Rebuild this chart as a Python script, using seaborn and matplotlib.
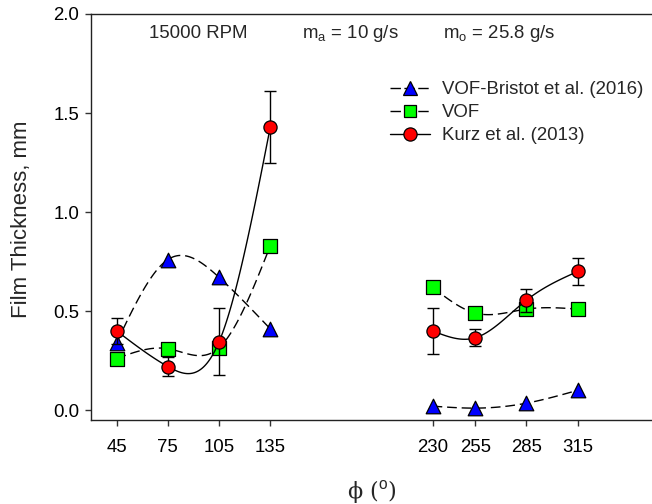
import numpy as np
import pandas as pd
import matplotlib
matplotlib.use("Agg")
import matplotlib.pyplot as plt
from matplotlib.lines import Line2D
import seaborn as sns

# Circumferential positions (degrees), two separate groups
phi_a = [45, 75, 105, 135]
phi_b = [230, 255, 285, 315]

# Film thickness, mm
vof_bristot_a = [0.34, 0.76, 0.67, 0.41]
vof_bristot_b = [0.02, 0.01, 0.035, 0.10]
vof_a = [0.26, 0.31, 0.315, 0.83]
vof_b = [0.62, 0.49, 0.51, 0.51]
kurz_a = [0.40, 0.22, 0.345, 1.43]
kurz_b = [0.40, 0.365, 0.555, 0.70]
kurz_err_a = [0.065, 0.047, 0.17, 0.18]
kurz_err_b = [0.115, 0.042, 0.058, 0.07]

x_ticks = [45, 75, 105, 135, 230, 255, 285, 315]
y_ticks = [0.0, 0.5, 1.0, 1.5, 2.0]

sns.set_theme(style="ticks")
plt.rcParams["font.family"] = ["Liberation Sans", "DejaVu Sans"]
plt.rcParams["mathtext.fontset"] = "custom"
plt.rcParams["mathtext.rm"] = "Liberation Sans"
plt.rcParams["mathtext.it"] = "Liberation Sans:italic"
FS = 13.4
FS_LABEL = 16


def natural_spline(x, y, n=120):
    """Natural cubic spline through (x, y), sampled on n points."""
    x = np.asarray(x, float)
    y = np.asarray(y, float)
    k = len(x)
    h = np.diff(x)
    A = np.zeros((k, k))
    r = np.zeros(k)
    A[0, 0] = A[-1, -1] = 1.0
    for i in range(1, k - 1):
        A[i, i - 1] = h[i - 1]
        A[i, i] = 2 * (h[i - 1] + h[i])
        A[i, i + 1] = h[i]
        r[i] = 6 * ((y[i + 1] - y[i]) / h[i] - (y[i] - y[i - 1]) / h[i - 1])
    M = np.linalg.solve(A, r)
    xs = np.linspace(x[0], x[-1], n)
    idx = np.clip(np.searchsorted(x, xs) - 1, 0, k - 2)
    x0, x1 = x[idx], x[idx + 1]
    hh = x1 - x0
    a = (x1 - xs) / hh
    b = (xs - x0) / hh
    ys = (a * y[idx] + b * y[idx + 1]
          + ((a ** 3 - a) * M[idx] + (b ** 3 - b) * M[idx + 1]) * hh ** 2 / 6)
    return xs, ys


fig = plt.figure(figsize=(6.52, 5.04), dpi=100)
W, H = 652, 504
ax_l, ax_t, ax_b = 91, 14, 420
ax = fig.add_axes([ax_l / W, 1 - ax_b / H, (W - ax_l) / W, (ax_b - ax_t) / H])

series = [
    ("VOF-Bristot et al. (2016)", vof_bristot_a, vof_bristot_b, "^", "#0000ff", (7, 3.5)),
    ("VOF", vof_a, vof_b, "s", "#00ff00", (7, 3.5)),
    ("Kurz et al. (2013)", kurz_a, kurz_b, "o", "#ff0000", ""),
]

z = 2
for name, ya, yb, mk, col, dash in series:
    for xs_, ys_ in ((phi_a, ya), (phi_b, yb)):
        sx, sy = natural_spline(xs_, ys_)
        curve = pd.DataFrame({"phi": sx, "t": sy})
        sns.lineplot(data=curve, x="phi", y="t", ax=ax, color="black",
                     linewidth=1.0, sort=False, zorder=z,
                     dashes=False, legend=False)
        if dash:
            ax.lines[-1].set_dashes(dash)
        if name.startswith("Kurz"):
            err = kurz_err_a if xs_ is phi_a else kurz_err_b
            ax.errorbar(xs_, ys_, yerr=err, fmt="none", ecolor="black",
                        elinewidth=1.0, capsize=4, capthick=1.0, zorder=z + 0.5)
        pts = pd.DataFrame({"phi": xs_, "t": ys_})
        sns.scatterplot(data=pts, x="phi", y="t", ax=ax, marker=mk,
                        color=col, edgecolor="black", linewidth=0.9,
                        s=90 if mk != "^" else 110, zorder=z + 1, legend=False)
    z += 2

ax.set_xlim(30, 358.5)
ax.set_ylim(-0.05, 2.0)
ax.set_xticks(x_ticks)
ax.set_xticklabels([str(v) for v in x_ticks], fontsize=FS)
ax.set_yticks(y_ticks)
ax.set_yticklabels([f"{v:.1f}" for v in y_ticks], fontsize=FS)
ax.tick_params(axis="both", direction="out", length=4.5, width=1.0,
               color="#333333", labelcolor="black")
ax.tick_params(axis="x", pad=9)
ax.tick_params(axis="y", pad=4)
for side in ("left", "bottom", "top"):
    ax.spines[side].set_color("#222222")
    ax.spines[side].set_linewidth(1.0)
ax.spines["right"].set_visible(False)

ax.set_xlabel(r"ϕ ($^{\mathrm{o}}$)", fontsize=FS_LABEL, labelpad=16,
              family=["DejaVu Serif", "Liberation Sans"])
ax.set_ylabel("Film Thickness, mm", fontsize=FS_LABEL)
ax.yaxis.set_label_coords(-0.106, 0.495)

fig.text(149 / W, 1 - 38 / H, "15000 RPM", fontsize=FS, ha="left", va="baseline")
fig.text(302 / W, 1 - 38 / H, r"m$_\mathrm{a}$ = 10 g/s", fontsize=FS,
         ha="left", va="baseline")
fig.text(443 / W, 1 - 38 / H, r"m$_\mathrm{o}$ = 25.8 g/s", fontsize=FS,
         ha="left", va="baseline")

handles = [
    Line2D([], [], color="black", lw=1.0, dashes=(7.5, 2.5), marker="^", markersize=10,
           markerfacecolor="#0000ff", markeredgecolor="black", markeredgewidth=0.9),
    Line2D([], [], color="black", lw=1.0, dashes=(7.5, 2.5), marker="s", markersize=9,
           markerfacecolor="#00ff00", markeredgecolor="black", markeredgewidth=0.9),
    Line2D([], [], color="black", lw=1.0, marker="o", markersize=9.5,
           markerfacecolor="#ff0000", markeredgecolor="black", markeredgewidth=0.9),
]
fig.legend(handles, [s[0] for s in series], loc="upper left",
           bbox_to_anchor=(377 / W, 1 - 68 / H), frameon=False, fontsize=FS,
           handlelength=2.15, handletextpad=0.65, labelspacing=0.32,
           borderpad=0.2)

fig.savefig("out.png", dpi=100)
